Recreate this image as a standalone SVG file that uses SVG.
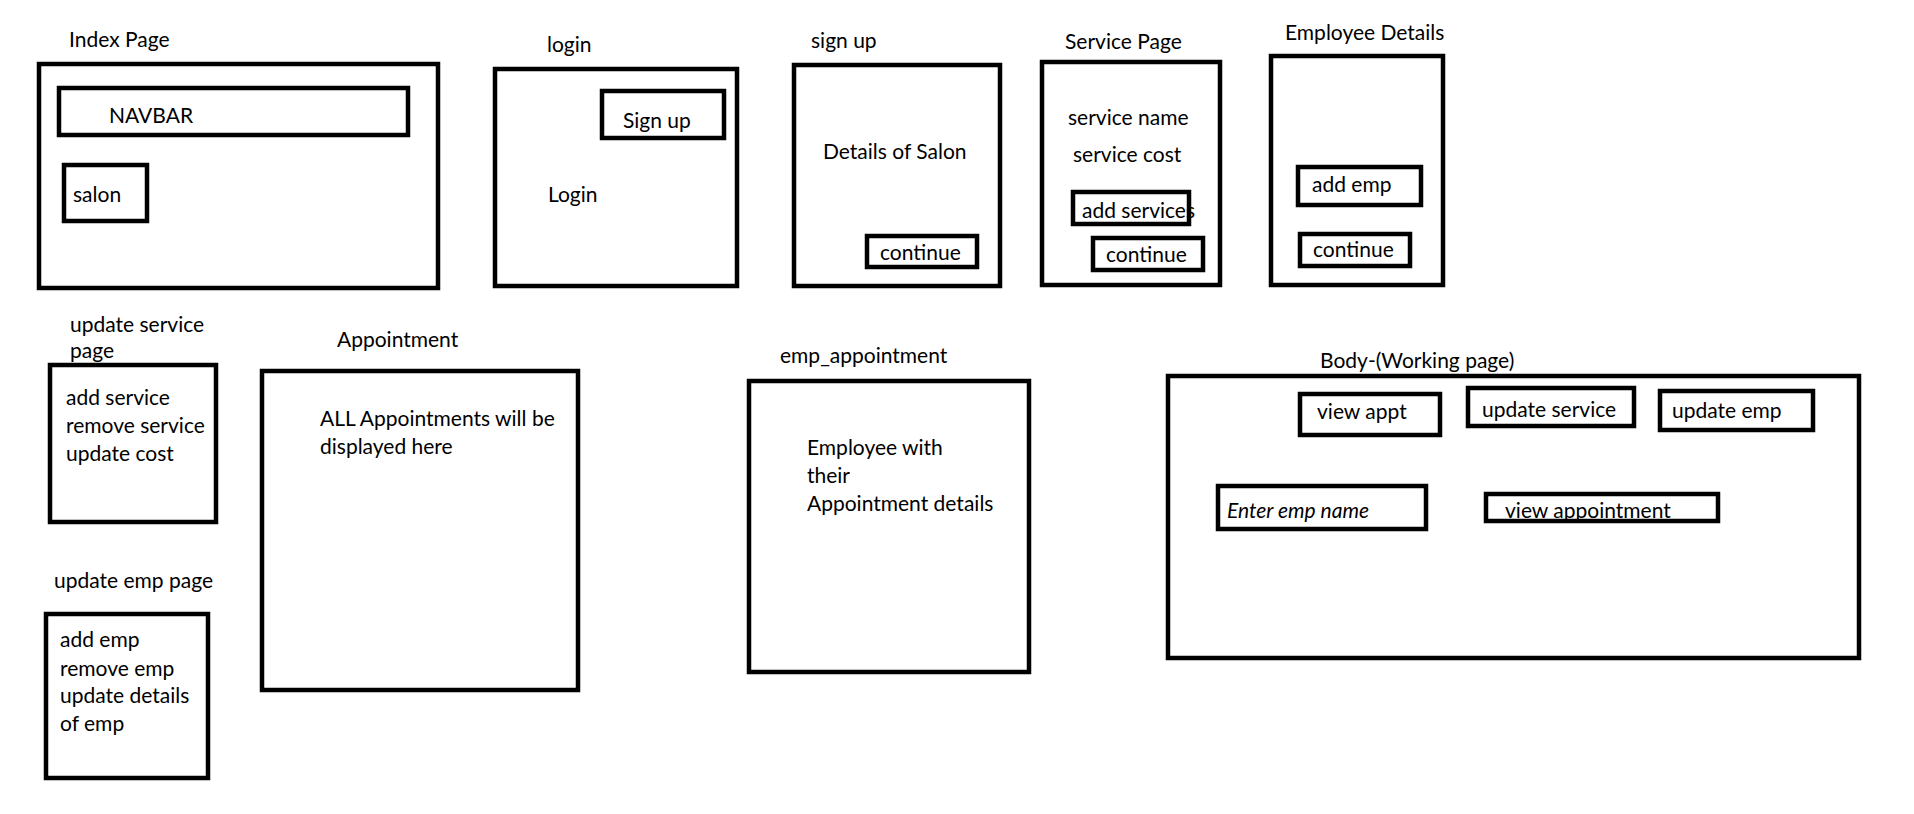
<svg xmlns="http://www.w3.org/2000/svg" width="1914" height="814" viewBox="0 0 1914 814">
<style>
.box{fill:none;stroke:#000;stroke-width:4.5}
.t{font-family:Lato,"Liberation Sans",sans-serif;font-size:21px;fill:#000}
.i{font-style:italic}
</style>
<rect width="1914" height="814" fill="#fff"/>
<g id="index-page">
<text class="t" x="69" y="47">Index Page</text>
<rect class="box" x="39" y="64" width="399" height="224"/>
<rect class="box" x="59" y="88" width="349" height="47"/>
<text class="t" x="109" y="123">NAVBAR</text>
<rect class="box" x="64" y="165" width="83" height="56"/>
<text class="t" x="73" y="202">salon</text>
</g>
<g id="login-page">
<text class="t" x="547" y="52">login</text>
<rect class="box" x="495" y="69" width="242" height="217"/>
<rect class="box" x="602" y="91" width="122" height="47"/>
<text class="t" x="623" y="128">Sign up</text>
<text class="t" x="548" y="202">Login</text>
</g>
<g id="signup-page">
<text class="t" x="811" y="48">sign up</text>
<rect class="box" x="794" y="65" width="206" height="221"/>
<text class="t" x="823" y="159">Details of Salon</text>
<rect class="box" x="867" y="236" width="110" height="31"/>
<text class="t" x="880" y="260">continue</text>
</g>
<g id="service-page">
<text class="t" x="1065" y="49">Service Page</text>
<rect class="box" x="1042" y="62" width="178" height="223"/>
<text class="t" x="1068" y="125">service name</text>
<text class="t" x="1073" y="162">service cost</text>
<rect class="box" x="1073" y="192" width="116" height="32"/>
<text class="t" x="1082" y="218">add services</text>
<rect class="box" x="1093" y="238" width="110" height="32"/>
<text class="t" x="1106" y="262">continue</text>
</g>
<g id="employee-details">
<text class="t" x="1285" y="40">Employee Details</text>
<rect class="box" x="1271" y="56" width="172" height="229"/>
<rect class="box" x="1298" y="167" width="123" height="38"/>
<text class="t" x="1312" y="192">add emp</text>
<rect class="box" x="1300" y="234" width="110" height="32"/>
<text class="t" x="1313" y="257">continue</text>
</g>
<g id="update-service-page">
<text class="t" x="70" y="332">update service</text>
<text class="t" x="70" y="358">page</text>
<rect class="box" x="50" y="365" width="166" height="157"/>
<text class="t" x="66" y="405">add service</text>
<text class="t" x="66" y="433">remove service</text>
<text class="t" x="66" y="461">update cost</text>
</g>
<g id="update-emp-page">
<text class="t" x="54" y="588">update emp page</text>
<rect class="box" x="46" y="614" width="162" height="164"/>
<text class="t" x="60" y="647">add emp</text>
<text class="t" x="60" y="676">remove emp</text>
<text class="t" x="60" y="703">update details</text>
<text class="t" x="60" y="731">of emp</text>
</g>
<g id="appointment-page">
<text class="t" x="337" y="347">Appointment</text>
<rect class="box" x="262" y="371" width="316" height="319"/>
<text class="t" x="320" y="426">ALL Appointments will be</text>
<text class="t" x="320" y="454">displayed here</text>
</g>
<g id="emp-appointment-page">
<text class="t" x="780" y="363">emp_appointment</text>
<rect class="box" x="749" y="381" width="280" height="291"/>
<text class="t" x="807" y="455">Employee with</text>
<text class="t" x="807" y="483">their</text>
<text class="t" x="807" y="511">Appointment details</text>
</g>
<g id="body-working-page">
<text class="t" x="1320" y="368">Body-(Working page)</text>
<rect class="box" x="1168" y="376" width="691" height="282"/>
<rect class="box" x="1300" y="394" width="140" height="41"/>
<text class="t" x="1317" y="419">view appt</text>
<rect class="box" x="1468" y="388" width="166" height="38"/>
<text class="t" x="1482" y="417">update service</text>
<rect class="box" x="1660" y="391" width="153" height="39"/>
<text class="t" x="1672" y="418">update emp</text>
<rect class="box" x="1218" y="486" width="208" height="43"/>
<text class="t i" x="1227" y="518">Enter emp name</text>
<rect class="box" x="1486" y="494" width="232" height="27"/>
<text class="t" x="1505" y="518">view appointment</text>
</g>
<g id="connectors"/>
</svg>
